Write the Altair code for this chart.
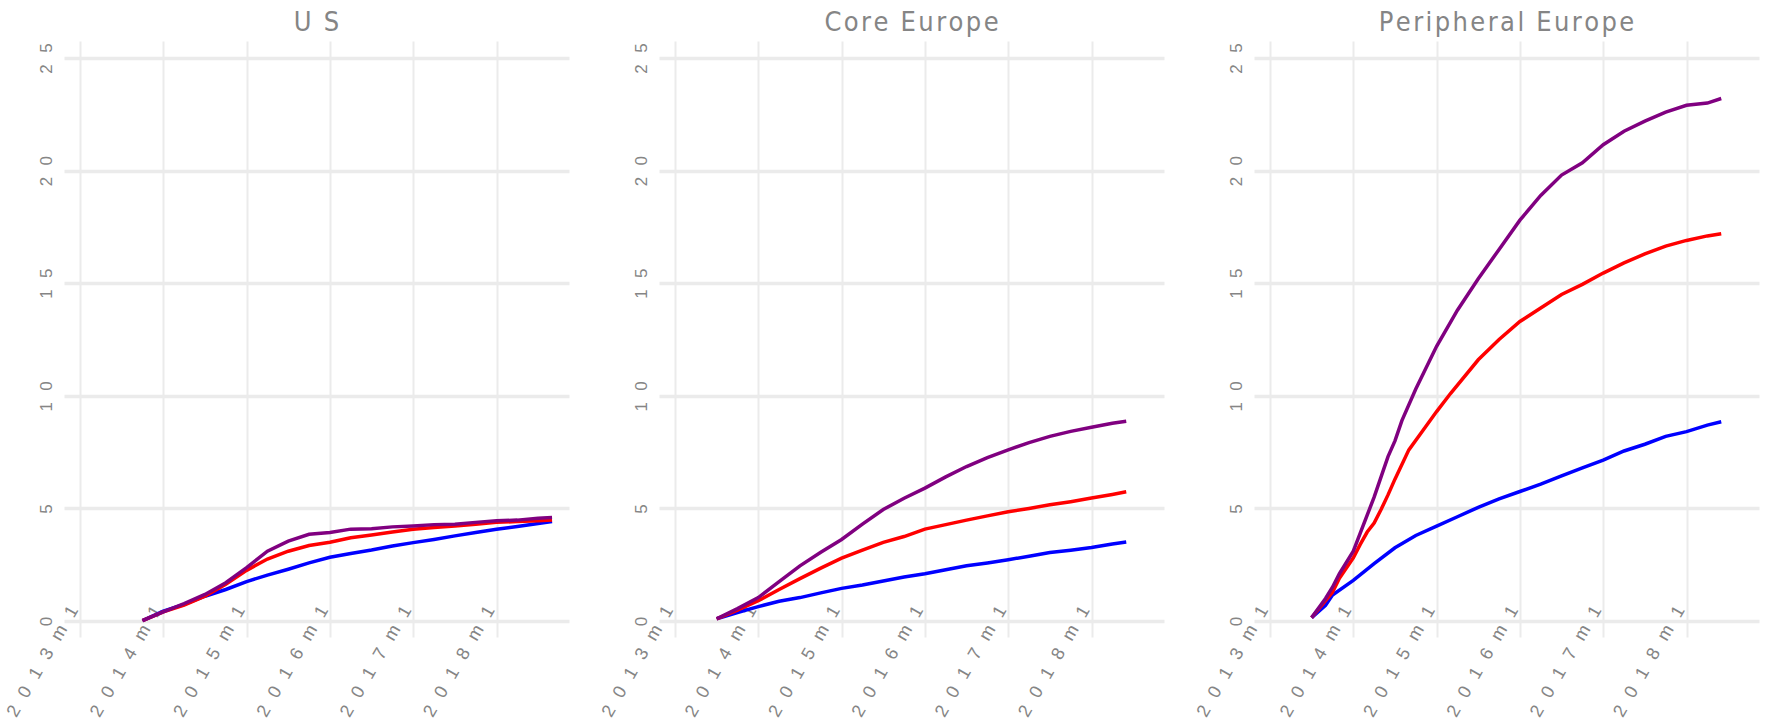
import altair as alt
import pandas as pd

# ---------------- data ----------------
SERIES = ["blue", "red", "purple"]
COLORS = ["#0000FF", "#FF0000", "#800080"]

us_dates = ["2013m10", "2014m1", "2014m4", "2014m7", "2014m10", "2015m1", "2015m4",
            "2015m7", "2015m10", "2016m1", "2016m4", "2016m7", "2016m10", "2017m1",
            "2017m4", "2017m7", "2017m10", "2018m1", "2018m4", "2018m7", "2018m9"]
us_blue = [0.02, 0.44, 0.74, 1.10, 1.40, 1.75, 2.04, 2.30, 2.58, 2.83, 3.00, 3.15,
           3.33, 3.48, 3.62, 3.78, 3.93, 4.07, 4.20, 4.33, 4.42]
us_red = [0.02, 0.41, 0.71, 1.10, 1.63, 2.25, 2.75, 3.10, 3.35, 3.50, 3.70, 3.82,
          3.95, 4.07, 4.15, 4.22, 4.30, 4.38, 4.42, 4.45, 4.48]
us_purple = [0.02, 0.41, 0.77, 1.18, 1.70, 2.37, 3.10, 3.55, 3.85, 3.93, 4.08, 4.10,
             4.18, 4.22, 4.28, 4.30, 4.38, 4.45, 4.48, 4.56, 4.60]

core_dates = ["2013m7", "2013m10", "2014m1", "2014m4", "2014m7", "2014m10", "2015m1",
              "2015m4", "2015m7", "2015m10", "2016m1", "2016m4", "2016m7", "2016m10",
              "2017m1", "2017m4", "2017m7", "2017m10", "2018m1", "2018m4", "2018m6"]
core_blue = [0.10, 0.38, 0.64, 0.88, 1.04, 1.25, 1.45, 1.60, 1.78, 1.95, 2.10, 2.28,
             2.45, 2.58, 2.72, 2.88, 3.04, 3.14, 3.26, 3.42, 3.51]
core_red = [0.10, 0.48, 0.90, 1.40, 1.88, 2.35, 2.79, 3.15, 3.49, 3.75, 4.08, 4.28,
            4.48, 4.67, 4.85, 5.00, 5.16, 5.30, 5.46, 5.62, 5.74]
core_purple = [0.10, 0.55, 1.04, 1.75, 2.45, 3.05, 3.62, 4.30, 4.95, 5.45, 5.90, 6.40,
               6.86, 7.25, 7.60, 7.92, 8.20, 8.42, 8.60, 8.78, 8.87]

peri_blue_dates = ["2013m7", "2013m9", "2013m10", "2014m1", "2014m4", "2014m7", "2014m10",
                   "2015m1", "2015m4", "2015m7", "2015m10", "2016m1", "2016m4", "2016m7",
                   "2016m10", "2017m1", "2017m4", "2017m7", "2017m10", "2018m1", "2018m4",
                   "2018m6"]
peri_blue = [0.15, 0.70, 1.15, 1.80, 2.55, 3.25, 3.80, 4.21, 4.63, 5.05, 5.42, 5.75,
             6.08, 6.45, 6.80, 7.14, 7.55, 7.85, 8.20, 8.41, 8.70, 8.85]

peri_red_dates = ["2013m7", "2013m9", "2013m10", "2013m11", "2014m1", "2014m2", "2014m3",
                  "2014m4", "2014m5", "2014m6", "2014m7", "2014m9", "2014m11", "2015m1",
                  "2015m3", "2015m7", "2015m10", "2016m1", "2016m4", "2016m7", "2016m10",
                  "2017m1", "2017m4", "2017m7", "2017m10", "2018m1", "2018m4", "2018m6"]
peri_red = [0.15, 0.90, 1.27, 1.90, 2.80, 3.40, 3.95, 4.35, 4.95, 5.60, 6.30, 7.60,
            8.45, 9.30, 10.10, 11.60, 12.50, 13.30, 13.90, 14.50, 14.95, 15.45, 15.90,
            16.30, 16.65, 16.90, 17.10, 17.20]

peri_purple_dates = ["2013m7", "2013m9", "2013m10", "2013m11", "2013m12", "2014m1",
                     "2014m2", "2014m3", "2014m4", "2014m5", "2014m6", "2014m7", "2014m8",
                     "2014m10", "2015m1", "2015m4", "2015m7", "2015m10", "2016m1",
                     "2016m4", "2016m7", "2016m10", "2017m1", "2017m4", "2017m7",
                     "2017m10", "2018m1", "2018m4", "2018m6"]
peri_purple = [0.15, 1.00, 1.50, 2.10, 2.60, 3.10, 3.90, 4.70, 5.50, 6.40, 7.30, 8.00,
               8.90, 10.30, 12.20, 13.80, 15.20, 16.50, 17.80, 18.90, 19.80, 20.35,
               21.15, 21.75, 22.20, 22.60, 22.90, 23.00, 23.20]

REGIONS = ["US", "Core Europe", "Peripheral Europe"]
# letter-spaced panel titles (en space between words so SVG does not collapse it)
TITLES = ["U\u2002S",
          "C\u200ao\u200ar\u200ae\u2002E\u200au\u200ar\u200ao\u200ap\u200ae",
          "P\u200ae\u200ar\u200ai\u200ap\u200ah\u200ae\u200ar\u200aa\u200al\u2002"
          "E\u200au\u200ar\u200ao\u200ap\u200ae"]
Y_TICKS = [0, 5, 10, 15, 20, 25]
X_TICKS = [2013, 2014, 2015, 2016, 2017, 2018]


def to_year(s):
    y, m = s.split("m")
    return int(y) + (int(m) - 1) / 12.0


rows = []
def add(region, series, dates, vals):
    for d, v in zip(dates, vals):
        rows.append({"region": region, "series": series, "t": to_year(d), "value": v})

add("US", "blue", us_dates, us_blue)
add("US", "red", us_dates, us_red)
add("US", "purple", us_dates, us_purple)
add("Core Europe", "blue", core_dates, core_blue)
add("Core Europe", "red", core_dates, core_red)
add("Core Europe", "purple", core_dates, core_purple)
add("Peripheral Europe", "blue", peri_blue_dates, peri_blue)
add("Peripheral Europe", "red", peri_red_dates, peri_red)
add("Peripheral Europe", "purple", peri_purple_dates, peri_purple)
df = pd.DataFrame(rows)

GREY = "#858585"
GRID = "#EBEBEB"
SP = "\u2002\u2006"
FONT = "Liberation Sans"
TFONT = "Liberation Sans Narrow, DejaVu Sans Condensed, Liberation Sans, sans-serif"

x_axis = alt.Axis(values=X_TICKS, format="d", title=None, grid=True, gridColor=GRID,
                  gridWidth=2, ticks=False, domain=False, labelColor=GREY,
                  labelFont=FONT, labelFontSize=18, labelAngle=-60, labelAlign="right",
                  labelBaseline="middle", labelPadding=-30, labelOffset=-6,
                  labelFlush=False, labelOverlap=False,
                  labelExpr=f"join(split(datum.label + 'm1', ''), '{SP}')")
y_axis = alt.Axis(values=Y_TICKS, format="d", title=None, grid=True, gridColor=GRID,
                  gridWidth=3.5, ticks=False, domain=False, labelColor=GREY,
                  labelFont=FONT, labelFontSize=17, labelAngle=-90, labelAlign="center",
                  labelBaseline="alphabetic", labelPadding=13, labelFlush=False,
                  labelOverlap=False,
                  labelExpr=f"join(split(datum.label, ''), '{SP}')")

panels = []
for region, ttl in zip(REGIONS, TITLES):
    d = df[df["region"] == region]
    p = alt.Chart(d, title=alt.Title(ttl, font=TFONT, fontSize=27, fontWeight="normal",
                                     color=GREY, anchor="middle", offset=4)).mark_line(
        strokeWidth=3.5
    ).encode(
        x=alt.X("t:Q", scale=alt.Scale(domain=[2012.808, 2018.87], nice=False, zero=False),
                axis=x_axis),
        y=alt.Y("value:Q", scale=alt.Scale(domain=[-0.71, 25.755], nice=False, zero=False),
                axis=y_axis),
        color=alt.Color("series:N", scale=alt.Scale(domain=SERIES, range=COLORS),
                        legend=None),
    ).properties(width=505, height=596)
    panels.append(p)

chart = alt.hconcat(*panels, spacing=90, bounds="flush").properties(
    padding={"left": 3, "top": 9, "right": 5, "bottom": 5},
    background="white",
).configure_view(stroke=None)

chart.save("out.html", embed_options={"renderer": "svg", "actions": False})
